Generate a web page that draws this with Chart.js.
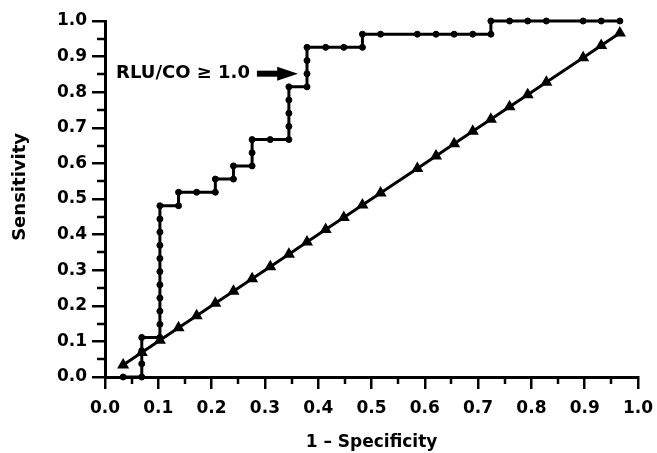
<!DOCTYPE html>
<html>
<head>
<meta charset="utf-8">
<script src="https://cdn.jsdelivr.net/npm/chart.js@4.4.1/dist/chart.umd.min.js"></script>
<style>
    html, body { margin: 0; padding: 0; background: #fff; }
    #wrap { width: 657px; height: 453px; }
</style>
</head>
<body>
<div id="wrap"><canvas id="rocChart" width="657" height="453"></canvas></div>
<script>
// ROC curve: 1 - specificity / sensitivity
const rocX = [0.034, 0.069, 0.069, 0.069, 0.069, 0.103, 0.103, 0.103, 0.103, 0.103, 0.103, 0.103, 0.103, 0.103, 0.103, 0.103,
    0.138, 0.138, 0.172, 0.207, 0.207, 0.241, 0.241, 0.276, 0.276, 0.276, 0.310, 0.345, 0.345, 0.345, 0.345, 0.345,
    0.379, 0.379, 0.379, 0.379, 0.414, 0.448, 0.483, 0.483, 0.517, 0.586, 0.621, 0.655, 0.690, 0.724, 0.724,
    0.759, 0.793, 0.828, 0.897, 0.931, 0.966];
const rocY = [0, 0, 0.037, 0.074, 0.111, 0.111, 0.148, 0.185, 0.222, 0.259, 0.296, 0.333, 0.370, 0.407, 0.444, 0.481,
    0.481, 0.519, 0.519, 0.519, 0.556, 0.556, 0.593, 0.593, 0.630, 0.667, 0.667, 0.667, 0.704, 0.741, 0.778, 0.815,
    0.815, 0.852, 0.889, 0.926, 0.926, 0.926, 0.926, 0.963, 0.963, 0.963, 0.963, 0.963, 0.963, 0.963, 1.0,
    1.0, 1.0, 1.0, 1.0, 1.0, 1.0];

// Линия случайного классификатора (те же точки отсечения)
const refX = [0.034, 0.069, 0.103, 0.138, 0.172, 0.207, 0.241, 0.276, 0.310, 0.345, 0.379, 0.414, 0.448,
    0.483, 0.517, 0.586, 0.621, 0.655, 0.690, 0.724, 0.759, 0.793, 0.828, 0.897, 0.931, 0.966];
const refY = [0.034, 0.069, 0.103, 0.138, 0.172, 0.207, 0.241, 0.276, 0.310, 0.345, 0.379, 0.414, 0.448,
    0.483, 0.517, 0.586, 0.621, 0.655, 0.690, 0.724, 0.759, 0.793, 0.828, 0.897, 0.931, 0.966];

// Подписи осей
const tickValues = [0, 0.1, 0.2, 0.3, 0.4, 0.5, 0.6, 0.7, 0.8, 0.9, 1.0];
const minorValues = [0.05, 0.15, 0.25, 0.35, 0.45, 0.55, 0.65, 0.75, 0.85, 0.95];
const xTitle = '1 \u2013 Specificity';
const yTitle = 'Sensitivity';

// Стрелка с порогом
const cutoffText = 'RLU/CO \u2265 1.0';
const cutoffY = 0.852;
const cutoffTextEnd = 0.272;
const arrowStart = 0.285;
const arrowHeadBase = 0.323;
const arrowTip = 0.362;

const FONT = "'DejaVu Sans', sans-serif";

Chart.defaults.color = '#000';
Chart.defaults.font.family = FONT;

const minorTicks = {
    id: 'minorTicks',
    afterDraw(chart) {
        const { ctx, scales: { x, y } } = chart;
        ctx.save();
        ctx.strokeStyle = '#000';
        ctx.lineWidth = 2.5;
        ctx.beginPath();
        minorValues.forEach(v => {
            const px = Math.round(x.getPixelForValue(v));
            ctx.moveTo(px, x.top);
            ctx.lineTo(px, x.top + 7);
            const py = Math.round(y.getPixelForValue(v));
            ctx.moveTo(y.right, py);
            ctx.lineTo(y.right - 8, py);
        });
        ctx.stroke();
        ctx.restore();
    }
};

// Подпись оси Y рисуем сами, чтобы сдвинуть её чуть выше центра
const yAxisTitle = {
    id: 'yAxisTitle',
    afterDraw(chart) {
        const { ctx, scales: { y } } = chart;
        ctx.save();
        ctx.translate(20, y.getPixelForValue(0.534));
        ctx.rotate(-Math.PI / 2);
        ctx.fillStyle = '#000';
        ctx.font = "bold 18px " + FONT;
        ctx.textAlign = 'center';
        ctx.textBaseline = 'middle';
        ctx.fillText(yTitle, 0, 0);
        ctx.restore();
    }
};

const cutoffLabel = {
    id: 'cutoffLabel',
    afterDraw(chart) {
        const { ctx, scales: { x, y } } = chart;
        const py = y.getPixelForValue(cutoffY);
        ctx.save();
        ctx.fillStyle = '#000';
        ctx.font = "bold 18px " + FONT;
        ctx.textAlign = 'right';
        ctx.textBaseline = 'middle';
        ctx.fillText(cutoffText, x.getPixelForValue(cutoffTextEnd), py);

        const x0 = x.getPixelForValue(arrowStart);
        const x1 = x.getPixelForValue(arrowHeadBase);
        const x2 = x.getPixelForValue(arrowTip);
        ctx.fillRect(x0, py - 3, x1 - x0 + 1, 6);
        ctx.beginPath();
        ctx.moveTo(x1, py - 7);
        ctx.lineTo(x2, py);
        ctx.lineTo(x1, py + 7);
        ctx.closePath();
        ctx.fill();
        ctx.restore();
    }
};

function axisOptions(tickLen) {
    return {
        type: 'linear',
        min: 0,
        max: 1,
        afterBuildTicks: scale => {
            scale.ticks = tickValues.map(v => ({ value: v }));
        },
        ticks: {
            font: { size: 17, weight: 'bold' },
            color: '#000',
            callback: v => Number(v).toFixed(1)
        },
        grid: {
            drawOnChartArea: false,
            drawTicks: true,
            tickLength: tickLen,
            color: '#000',
            lineWidth: 2.5
        },
        border: { display: true, color: '#000', width: 3 }
    };
}

const xAxis = axisOptions(12);
xAxis.ticks.padding = 9;
xAxis.title = {
    display: true,
    text: xTitle,
    color: '#000',
    font: { size: 17, weight: 'bold' },
    padding: { top: 4, bottom: 0 }
};
xAxis.afterFit = scale => {
    scale.height = 76;
    scale.paddingLeft = 0;
    scale.paddingRight = 0;
};

const yAxis = axisOptions(13);
yAxis.ticks.padding = 5;
yAxis.afterFit = scale => {
    scale.width = 105;
    scale.paddingTop = 0;
    scale.paddingBottom = 0;
};

new Chart(document.getElementById('rocChart').getContext('2d'), {
    type: 'scatter',
    data: {
        datasets: [{
            label: 'Reference',
            data: refX.map((v, i) => ({ x: v, y: refY[i] })),
            showLine: true,
            borderColor: '#000',
            backgroundColor: '#000',
            borderWidth: 3,
            pointStyle: 'triangle',
            pointRadius: 5.5,
            pointBorderWidth: 1.5,
            clip: false
        }, {
            label: 'ROC',
            data: rocX.map((v, i) => ({ x: v, y: rocY[i] })),
            showLine: true,
            borderColor: '#000',
            backgroundColor: '#000',
            borderWidth: 3,
            pointStyle: 'circle',
            pointRadius: 3,
            pointBorderWidth: 1,
            clip: false
        }]
    },
    options: {
        responsive: false,
        animation: false,
        devicePixelRatio: 1,
        layout: { padding: { top: 21, right: 19, bottom: 0, left: 0 } },
        plugins: {
            legend: { display: false },
            tooltip: { enabled: false }
        },
        scales: { x: xAxis, y: yAxis }
    },
    plugins: [minorTicks, yAxisTitle, cutoffLabel]
});
</script>
</body>
</html>
